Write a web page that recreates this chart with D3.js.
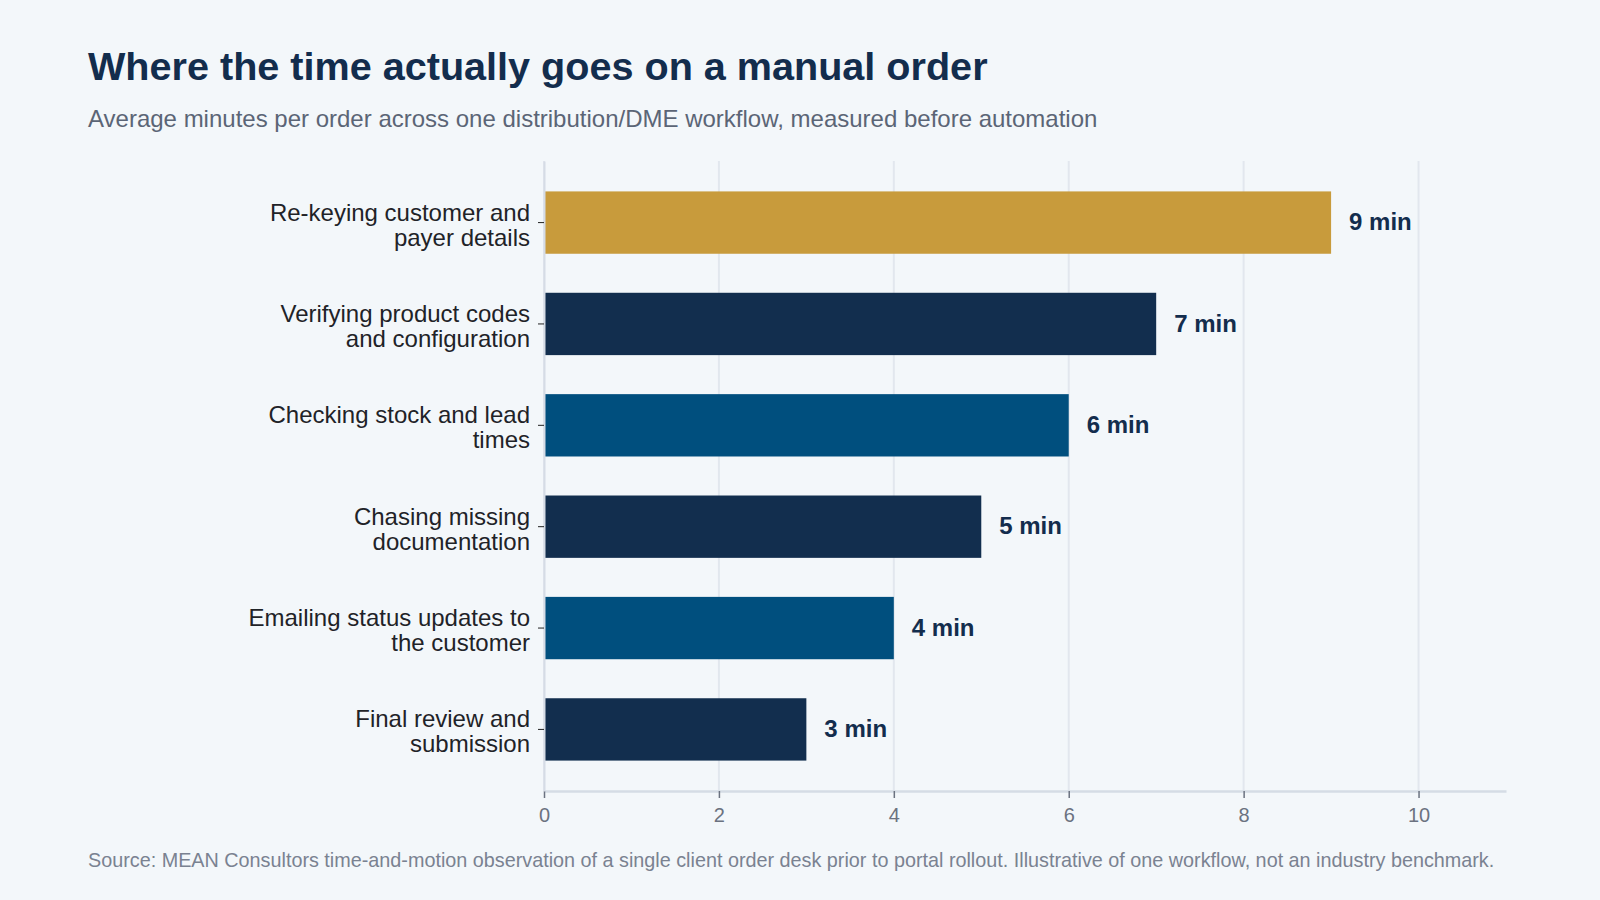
<!DOCTYPE html>
<html>
<head>
<meta charset="utf-8">
<script src="https://cdn.jsdelivr.net/npm/d3@7"></script>
<style>
  html, body { margin: 0; padding: 0; background: #f3f7fa; }
  svg { display: block; font-family: "Liberation Sans", Arial, sans-serif; }
</style>
</head>
<body>
<div id="chart"></div>
<script>
// Chart data
const categories = [
    ["Re-keying customer and", "payer details"],
    ["Verifying product codes", "and configuration"],
    ["Checking stock and lead", "times"],
    ["Chasing missing", "documentation"],
    ["Emailing status updates to", "the customer"],
    ["Final review and", "submission"]
];
const minutes = [9, 7, 6, 5, 4, 3];
const barColors = ["#c89b3c", "#122e4e", "#004f7e", "#122e4e", "#004f7e", "#122e4e"];
const xTicks = [0, 2, 4, 6, 8, 10];

const titleText = "Where the time actually goes on a manual order";
const subtitleText = "Average minutes per order across one distribution/DME workflow, measured before automation";
const sourceText = "Source: MEAN Consultors time-and-motion observation of a single client order desk prior to portal rollout. Illustrative of one workflow, not an industry benchmark.";

const W = 1600, H = 900;
//Plot area edges in page pixels
const margin = {left: 544, right: 94, top: 161, bottom: 109};
const width = W - margin.left - margin.right;
const height = H - margin.top - margin.bottom;

const svg = d3.select("#chart")
    .append("svg")
    .attr("width", W)
    .attr("height", H);

svg.append("rect")
    .attr("width", W)
    .attr("height", H)
    .attr("fill", "#f3f7fa");

//Title and subtitle
svg.append("text")
    .attr("x", 88)
    .attr("y", 80)
    .attr("fill", "#132d4d")
    .style("font-size", "39.6px")
    .style("font-weight", "bold")
    .text(titleText);

svg.append("text")
    .attr("x", 88)
    .attr("y", 127)
    .attr("fill", "#5b6576")
    .style("font-size", "24px")
    .text(subtitleText);

const g = svg.append("g")
    .attr("transform", `translate(${margin.left},${margin.top})`);

//Scales
const xScale = d3.scaleLinear()
    .domain([0, 11])
    .range([0, width]);

const yScale = d3.scaleBand()
    .domain(d3.range(categories.length))
    .range([0, height])
    .paddingInner(0.385)
    .paddingOuter(0.3);

//Vertical gridlines
g.append("g")
    .selectAll("line")
    .data(xTicks)
    .join("line")
    .attr("x1", d => xScale(d))
    .attr("x2", d => xScale(d))
    .attr("y1", 0)
    .attr("y2", height)
    .attr("stroke", "#e2e7ee")
    .attr("stroke-width", 2);

//Bars
g.append("g")
    .selectAll("rect")
    .data(minutes)
    .join("rect")
    .attr("x", xScale(0))
    .attr("y", (d, i) => yScale(i))
    .attr("width", d => xScale(d) - xScale(0))
    .attr("height", yScale.bandwidth())
    .attr("fill", (d, i) => barColors[i]);

//Value labels at the end of each bar
g.append("g")
    .selectAll("text")
    .data(minutes)
    .join("text")
    .attr("x", d => xScale(d) + 18)
    .attr("y", (d, i) => yScale(i) + yScale.bandwidth() / 2)
    .attr("dy", "0.32em")
    .attr("fill", "#132d4d")
    .style("font-size", "24px")
    .style("font-weight", "bold")
    .text(d => d + " min");

//X axis
const xAxis = g.append("g")
    .attr("transform", `translate(0,${height})`)
    .call(d3.axisBottom(xScale).tickValues(xTicks).tickSize(7).tickPadding(10).tickSizeOuter(0));

xAxis.select(".domain")
    .attr("stroke", "#d5dce5")
    .attr("stroke-width", 2.5);
xAxis.selectAll(".tick line")
    .attr("stroke", "#6b7280")
    .attr("stroke-width", 1.5);
xAxis.selectAll(".tick text")
    .attr("fill", "#6b7280")
    .style("font-size", "20px")
    .style("font-family", "'Liberation Sans', Arial, sans-serif");

//Y axis with two-line category labels
const yAxis = g.append("g")
    .call(d3.axisLeft(yScale).tickSize(6).tickSizeOuter(0).tickFormat(""));

yAxis.select(".domain")
    .attr("stroke", "#d5dce5")
    .attr("stroke-width", 2);
yAxis.selectAll(".tick line")
    .attr("stroke", "#222");

yAxis.selectAll(".tick text").remove();
yAxis.selectAll(".tick")
    .append("text")
    .attr("text-anchor", "end")
    .attr("fill", "#1f2328")
    .style("font-size", "24px")
    .style("font-family", "'Liberation Sans', Arial, sans-serif")
    .each(function (d) {
        const lines = categories[d];
        const t = d3.select(this);
        lines.forEach((line, k) => {
            t.append("tspan")
                .attr("x", -14)
                .attr("y", -2 + k * 25)
                .text(line);
        });
    });

//Source note
svg.append("text")
    .attr("x", 88)
    .attr("y", 867)
    .attr("fill", "#7a8291")
    .style("font-size", "19.8px")
    .text(sourceText);
</script>
</body>
</html>
